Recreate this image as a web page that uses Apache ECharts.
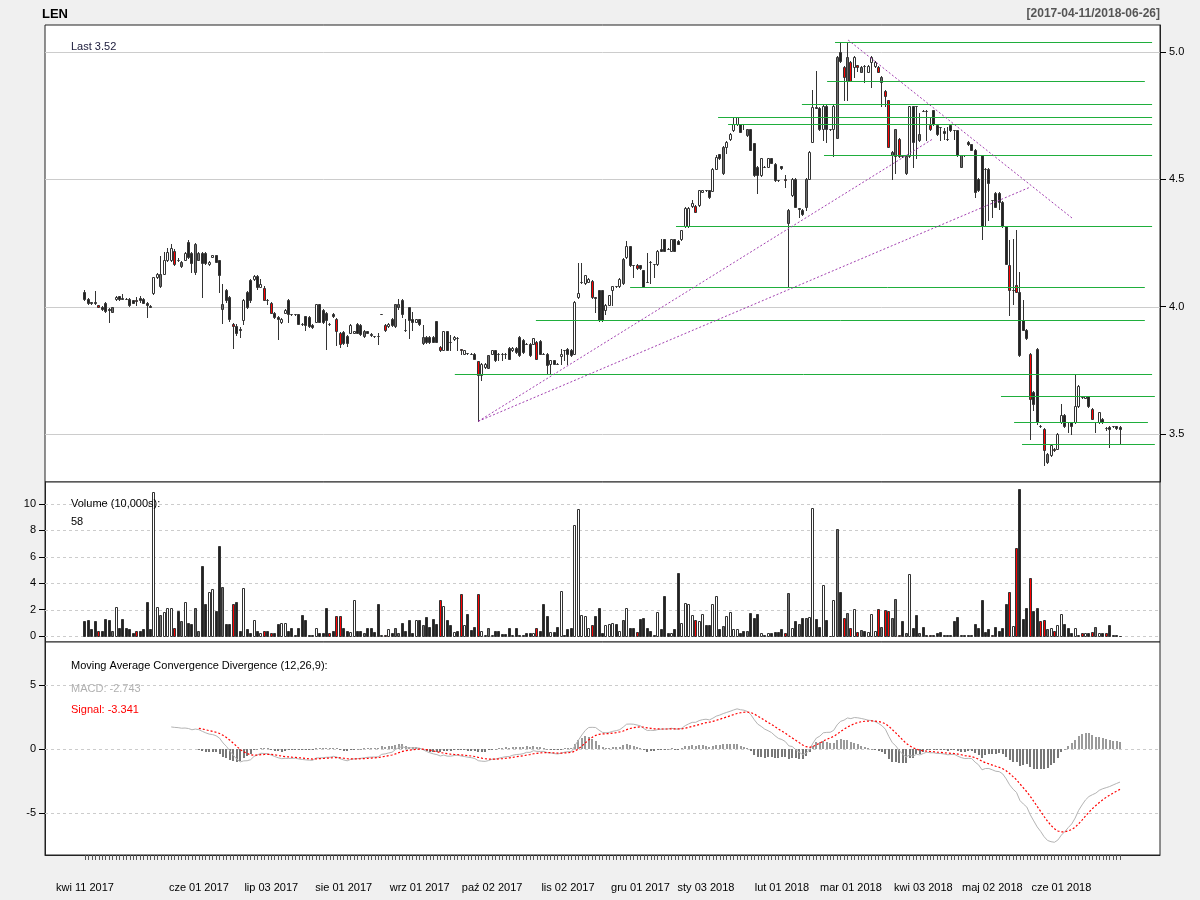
<!DOCTYPE html>
<html><head><meta charset="utf-8">
<script src="https://cdn.jsdelivr.net/npm/echarts@6/dist/echarts.min.js"></script>
<style>html,body{margin:0;padding:0;background:#F0F0F0}#c{width:1200px;height:900px}</style>
</head><body><div id="c"></div>
<script>
// ---- DATA (LEN, daily, 2017-04-11 .. 2018-06-26), one entry per session ----
const open=[4.058,4.032,4.018,4.018,4.005,4.000,4.016,3.990,3.981,4.030,
4.040,4.033,4.032,4.032,4.025,4.025,4.034,4.032,4.016,4.003,
4.052,4.115,4.080,4.130,4.185,4.185,4.220,4.184,4.159,4.185,
4.255,4.211,4.137,4.185,4.211,4.211,4.166,4.196,4.202,4.182,
3.990,4.065,4.039,3.930,3.923,3.912,3.947,4.058,4.104,4.108,
4.121,4.078,4.075,4.028,4.016,3.977,3.960,3.940,3.977,4.028,
3.970,3.970,3.970,3.931,3.962,3.960,3.927,3.940,4.010,3.987,
3.977,3.931,3.970,3.950,3.897,3.900,3.884,3.897,3.897,3.931,
3.927,3.884,3.903,3.894,3.884,3.884,3.970,3.927,3.923,3.950,
3.923,4.000,4.028,3.910,3.997,3.950,3.940,3.950,3.858,3.881,
3.881,3.881,3.943,3.842,3.831,3.904,3.860,3.873,3.878,3.833,
3.816,3.818,3.816,3.816,3.786,3.733,3.763,3.761,3.816,3.829,
3.816,3.816,3.816,3.838,3.829,3.838,3.881,3.871,3.855,3.855,
3.855,3.862,3.866,3.816,3.816,3.776,3.790,3.776,3.805,3.829,
3.835,3.831,3.816,4.036,4.097,4.091,4.097,4.101,4.036,4.064,
4.065,3.988,4.008,4.064,4.081,4.081,4.093,4.195,4.237,4.163,
4.163,4.163,4.143,4.097,4.176,4.167,4.167,4.228,4.264,4.228,
4.219,4.264,4.257,4.264,4.316,4.316,4.395,4.397,4.398,4.451,
4.457,4.457,4.455,4.542,4.599,4.523,4.628,4.657,4.693,4.716,
4.716,4.716,4.674,4.696,4.641,4.549,4.516,4.549,4.549,4.582,
4.562,4.497,4.552,4.503,4.329,4.438,4.503,4.383,4.381,4.390,
4.503,4.647,4.785,4.782,4.696,4.787,4.696,4.696,4.664,5.001,
4.942,4.887,4.962,4.942,4.947,4.922,4.945,4.922,4.962,4.945,
4.942,4.883,4.848,4.811,4.595,4.591,4.660,4.591,4.523,4.591,
4.787,4.787,4.654,4.769,4.769,4.713,4.772,4.713,4.704,4.690,
4.660,4.713,4.693,4.693,4.549,4.595,4.647,4.638,4.617,4.503,
4.595,4.542,4.542,4.418,4.447,4.447,4.412,4.316,4.163,4.064,
4.084,4.058,3.947,3.910,3.816,3.665,3.835,3.532,3.521,3.390,
3.416,3.442,3.442,3.547,3.576,3.547,3.547,3.547,3.609,3.646,
3.643,3.648,3.600,3.547,3.547,3.560,3.525,3.528,3.530,3.530,
3.528];
const high=[4.067,4.035,4.020,4.060,4.008,4.003,4.020,3.995,4.000,4.040,
4.042,4.050,4.034,4.034,4.027,4.039,4.040,4.034,4.020,4.006,
4.117,4.133,4.200,4.215,4.229,4.248,4.225,4.190,4.180,4.215,
4.261,4.215,4.250,4.213,4.215,4.215,4.178,4.204,4.204,4.185,
4.090,4.070,4.040,3.935,3.930,3.920,4.030,4.060,4.110,4.125,
4.125,4.108,4.080,4.030,4.020,3.980,3.963,3.955,3.990,4.030,
3.972,3.972,3.972,3.935,3.965,3.965,3.930,4.012,4.012,3.990,
3.980,3.935,3.975,3.955,3.900,3.905,3.890,3.930,3.905,3.935,
3.930,3.910,3.905,3.897,3.886,3.897,3.970,3.930,3.935,3.955,
4.012,4.030,4.030,3.950,4.000,3.980,3.952,3.952,3.927,3.885,
3.885,3.885,3.945,3.845,3.906,3.906,3.887,3.883,3.880,3.835,
3.830,3.820,3.818,3.818,3.788,3.778,3.778,3.810,3.830,3.830,
3.818,3.818,3.818,3.840,3.840,3.840,3.883,3.873,3.857,3.857,
3.877,3.866,3.868,3.818,3.818,3.792,3.792,3.778,3.835,3.831,
3.837,3.833,4.021,4.170,4.170,4.126,4.112,4.103,4.038,4.066,
4.067,4.010,4.047,4.083,4.083,4.112,4.190,4.257,4.240,4.165,
4.167,4.165,4.145,4.209,4.178,4.169,4.221,4.264,4.266,4.230,
4.266,4.266,4.260,4.302,4.391,4.391,4.418,4.399,4.459,4.459,
4.459,4.459,4.544,4.595,4.601,4.630,4.650,4.680,4.743,4.745,
4.718,4.718,4.698,4.698,4.643,4.551,4.584,4.551,4.584,4.584,
4.564,4.499,4.554,4.516,4.383,4.505,4.505,4.387,4.383,4.505,
4.610,4.850,4.926,4.785,4.790,4.790,4.698,4.790,4.983,5.034,
4.944,5.034,4.964,4.983,4.947,4.944,4.947,4.947,4.983,4.964,
4.944,4.905,4.850,4.813,4.610,4.698,4.662,4.593,4.593,4.789,
4.789,4.789,4.761,4.771,4.771,4.743,4.774,4.715,4.706,4.700,
4.706,4.715,4.695,4.695,4.597,4.597,4.650,4.640,4.620,4.505,
4.597,4.544,4.544,4.420,4.450,4.450,4.415,4.318,4.261,4.267,
4.300,4.136,4.028,3.912,3.818,3.667,3.837,3.534,3.523,3.425,
3.457,3.444,3.503,3.617,3.578,3.549,3.549,3.733,3.691,3.648,
3.650,3.650,3.602,3.549,3.588,3.562,3.527,3.530,3.532,3.532,
3.532];
const low=[4.025,4.010,4.010,4.012,3.998,3.985,3.980,3.940,3.980,4.028,
4.028,4.030,4.029,4.004,4.014,4.006,4.020,4.014,3.960,3.998,
4.050,4.112,4.078,4.128,4.180,4.180,4.165,4.178,4.157,4.183,
4.190,4.137,4.130,4.183,4.039,4.168,4.164,4.194,4.174,4.058,
3.934,4.020,3.945,3.836,3.890,3.880,3.930,3.995,4.020,4.105,
4.070,4.076,4.025,4.010,3.975,3.957,3.873,3.937,3.975,3.940,
3.968,3.968,3.930,3.928,3.910,3.920,3.918,3.938,3.938,3.935,
3.835,3.928,3.960,3.849,3.842,3.855,3.845,3.895,3.895,3.895,
3.890,3.880,3.895,3.884,3.882,3.855,3.970,3.905,3.920,3.925,
3.920,3.990,3.960,3.905,3.875,3.907,3.938,3.929,3.855,3.858,
3.858,3.860,3.860,3.827,3.829,3.829,3.829,3.870,3.829,3.816,
3.815,3.816,3.814,3.793,3.550,3.711,3.760,3.760,3.814,3.788,
3.790,3.790,3.800,3.794,3.827,3.820,3.807,3.820,3.853,3.807,
3.853,3.794,3.814,3.814,3.737,3.737,3.774,3.774,3.776,3.790,
3.776,3.807,3.814,4.034,4.091,4.089,4.095,4.034,3.980,3.945,
3.945,3.973,4.006,4.008,4.079,4.079,4.090,4.190,4.160,4.117,
4.148,4.148,4.076,4.095,4.093,4.117,4.165,4.217,4.217,4.226,
4.217,4.217,4.246,4.262,4.314,4.314,4.393,4.370,4.396,4.449,
4.455,4.427,4.453,4.540,4.580,4.520,4.602,4.655,4.690,4.714,
4.685,4.696,4.672,4.615,4.514,4.447,4.514,4.547,4.547,4.563,
4.495,4.495,4.541,4.471,4.078,4.436,4.390,4.353,4.361,4.380,
4.500,4.645,4.780,4.694,4.654,4.647,4.694,4.591,4.662,4.962,
4.811,4.811,4.885,4.903,4.926,4.920,4.883,4.920,4.863,4.943,
4.920,4.787,4.787,4.626,4.503,4.523,4.589,4.589,4.520,4.589,
4.549,4.582,4.652,4.767,4.654,4.694,4.715,4.675,4.654,4.660,
4.656,4.690,4.658,4.593,4.547,4.593,4.636,4.615,4.429,4.455,
4.264,4.320,4.340,4.353,4.390,4.385,4.314,4.167,3.966,4.012,
4.056,3.807,3.908,3.873,3.482,3.593,3.541,3.528,3.377,3.388,
3.414,3.434,3.440,3.545,3.528,3.508,3.501,3.545,3.607,3.640,
3.640,3.607,3.558,3.508,3.545,3.545,3.514,3.449,3.528,3.520,
3.462];
const close=[4.032,4.016,4.016,4.016,4.000,3.990,3.983,3.985,3.997,4.039,
4.030,4.031,4.030,4.006,4.016,4.022,4.025,4.016,4.006,4.000,
4.115,4.130,4.130,4.185,4.215,4.229,4.167,4.182,4.176,4.211,
4.196,4.170,4.248,4.211,4.170,4.170,4.176,4.202,4.176,4.124,
4.010,4.026,3.950,3.925,3.895,3.910,4.028,3.997,4.028,4.121,
4.078,4.090,4.028,4.025,3.977,3.960,3.950,3.950,3.988,3.970,
3.970,3.970,3.931,3.931,3.927,3.923,3.920,4.010,3.940,3.940,
3.947,3.931,3.962,3.904,3.855,3.858,3.858,3.927,3.903,3.897,
3.894,3.903,3.897,3.890,3.884,3.884,3.970,3.910,3.931,3.927,
4.010,4.010,3.970,3.910,3.947,3.940,3.950,3.931,3.882,3.862,
3.862,3.862,3.862,3.829,3.904,3.831,3.860,3.881,3.875,3.829,
3.829,3.818,3.816,3.795,3.733,3.776,3.776,3.809,3.829,3.790,
3.816,3.816,3.816,3.796,3.838,3.822,3.809,3.822,3.855,3.809,
3.875,3.796,3.816,3.816,3.770,3.790,3.776,3.776,3.816,3.829,
3.816,3.809,4.019,4.054,4.097,4.124,4.110,4.036,4.034,3.947,
3.947,4.008,4.045,4.081,4.081,4.110,4.189,4.237,4.163,4.163,
4.150,4.150,4.078,4.097,4.176,4.167,4.219,4.219,4.219,4.228,
4.264,4.219,4.248,4.300,4.389,4.389,4.408,4.372,4.457,4.457,
4.457,4.429,4.542,4.588,4.582,4.628,4.648,4.678,4.716,4.743,
4.687,4.716,4.696,4.617,4.516,4.516,4.582,4.549,4.582,4.565,
4.497,4.497,4.543,4.497,4.381,4.503,4.392,4.386,4.363,4.503,
4.608,4.785,4.782,4.696,4.787,4.696,4.696,4.787,4.981,4.964,
4.903,4.981,4.887,4.981,4.943,4.942,4.945,4.945,4.981,4.962,
4.922,4.903,4.827,4.628,4.608,4.696,4.591,4.591,4.591,4.787,
4.647,4.787,4.677,4.769,4.769,4.696,4.717,4.677,4.704,4.680,
4.658,4.693,4.693,4.595,4.595,4.595,4.638,4.617,4.451,4.457,
4.316,4.542,4.486,4.418,4.392,4.412,4.316,4.169,4.064,4.066,
4.058,3.809,3.910,3.875,3.639,3.619,3.547,3.530,3.436,3.423,
3.455,3.436,3.501,3.576,3.530,3.547,3.530,3.609,3.689,3.646,
3.648,3.609,3.560,3.547,3.586,3.547,3.525,3.521,3.530,3.525,
3.520];
// bar colour class per session: w=up/up, g=up/down, r=down/up, k=down/down
const barClass=("kkkkrkkkgw"+"kkkkkrkkkk"+"wwgwwwrkgw"+"kkggkkwwkk"+"gkkrkkwkkw"+
"kwrkrkkwwk"+"kkkkkkkwkk"+"krkrrkkwwk"+"kgkkkkwrwk"+"ggkkkkwkgk"+
"kkkrwkkwkr"+"wkkkrwwgwk"+"kkkkwkkkkk"+"wrkkkwkkwk"+"kkwwwwwrkk"+
"kwwwkwgwkk"+"rkkkkkwkkk"+"wkkwwwwrww"+"kkwwkgwwww"+"kkgkkkwkwk"+
"kkkrgwkgkg"+"wwkkwkwwgk"+"rgrwrgkwww"+"rgrrggrkgw"+"kkgkkrkkkk"+
"kkkkgkkkkk"+"kkkrkkkkrw"+"rkkkrkkrrg"+"wrwwkkkwwr"+"wkrgwkrkkk"+"k").split('');
// volume in 10,000s
const volume=[1.1,1.2,0.5,1.1,0.4,0.4,1.3,1.25,0.4,2.2,
0.6,1.3,0.6,0.5,0.2,0.4,0.4,0.5,2.6,0.5,
10.9,2.2,1.6,1.8,2.1,2.1,0.6,1.9,1.1,2.6,
1.0,0.9,2.1,0.4,5.3,2.4,3.3,3.55,1.9,6.8,
3.7,0.9,0.9,2.4,2.6,0.4,3.6,0.5,0.2,1.25,
0.4,0.2,0.4,0.4,0.2,0.2,0.9,1.0,1.0,0.4,
0.6,0.1,0.6,1.6,1.25,0.1,0.1,0.6,0.25,0.2,
2.1,0.2,0.4,1.5,1.55,0.6,0.4,0.3,2.7,0.4,
0.4,0.2,0.6,0.6,0.3,2.4,0.1,0.1,0.5,0.2,
0.6,0.2,1.0,0.4,1.2,0.2,1.25,1.25,0.8,1.45,
0.7,1.3,0.9,2.75,2.3,1.25,0.8,0.3,0.35,3.2,
0.8,1.7,0.45,0.7,3.2,0.4,0.1,0.6,0.1,0.35,
0.35,0.15,0.15,0.6,0.1,0.6,0.05,0.05,0.2,0.25,
0.2,0.6,0.35,2.4,1.5,0.3,0.3,0.7,3.4,0.1,
0.5,0.6,8.4,9.6,1.6,1.5,0.6,0.8,1.55,2.1,
0.2,0.8,0.9,1.0,0.9,0.4,1.2,2.1,0.6,0.6,
0.3,1.3,1.4,0.6,0.4,0.1,1.8,0.5,3.05,0.2,
0.25,0.5,4.75,1.0,2.5,2.4,1.6,1.2,1.1,1.7,
0.8,0.8,2.4,3.05,0.5,0.75,1.5,1.8,0.55,0.55,
0.2,0.4,0.4,1.75,1.4,1.7,0.25,0.1,0.25,0.25,
0.3,0.3,0.55,0.2,3.25,0.6,1.1,0.9,1.4,1.4,
1.45,9.7,1.3,0.7,3.9,1.2,0.02,2.7,8.1,3.3,
1.4,1.75,0.6,2.05,0.3,0.45,0.4,0.3,1.7,0.4,
2.05,0.7,2.0,1.9,1.4,2.8,0.1,1.1,0.25,4.7,
0.6,1.6,0.2,0.7,0.1,0.1,0.1,0.2,0.3,0.05,
0.05,0.1,1.1,1.45,0.05,0.1,0.05,0.1,0.9,0.6,
2.75,0.3,0.5,0.1,0.7,0.4,0.6,2.4,3.3,0.75,
6.7,11.1,1.3,2.1,4.4,1.9,2.1,1.1,1.2,0.5,
0.6,0.4,0.8,1.7,0.9,0.6,0.25,0.6,0.1,0.25,
0.2,0.2,0.3,0.7,0.2,0.25,0.2,0.8,0.05,0.05,
0.0058];
// date-axis labels (session index -> label)
const dateTickIndex=[0,33,54,75,97,118,140,161,180,202,222,243,263,283];
const dateTickLabel=['kwi 11 2017','cze 01 2017','lip 03 2017','sie 01 2017','wrz 01 2017','paź 02 2017','lis 02 2017','gru 01 2017','sty 03 2018','lut 01 2018','mar 01 2018','kwi 03 2018','maj 02 2018','cze 01 2018'];
const priceTicks=[3.5,4.0,4.5,5.0];
const volumeTicks=[0,2,4,6,8,10];
const macdTicks=[-5,0,5];
// support / resistance levels: [price, from session, to session]
const levelLines=[[5.038,217.4,309.3],[4.885,215.1,307.2],[4.796,207.8,309.3],[4.744,183.5,309.3],
[4.716,186.4,309.3],[4.594,214.2,309.3],[4.316,171.3,309.3],[4.076,158.0,307.2],[3.946,130.7,307.2],
[3.734,107.2,309.3],[3.649,265.5,310.1],[3.546,269.3,308.1],[3.461,271.6,310.1]];
// trend lines: [from session, price, to session, price]
const trendLines=[[114,3.55,245.8,4.659],[114,3.55,273.9,4.469],[221.2,5.047,286.1,4.348]];
const macdParams=[12,26,9];

// ---- indicator (quantmod/TTR MACD, percent=TRUE) ----
function ema(x,n){
  const out=new Array(x.length).fill(null);
  const s0=x.findIndex(v=>v!=null);
  if(s0<0||s0+n>x.length) return out;
  let s=0; for(let k=s0;k<s0+n;k++) s+=x[k];
  let prev=s/n; out[s0+n-1]=prev; const a=2/(n+1);
  for(let k=s0+n;k<x.length;k++){prev=a*x[k]+(1-a)*prev; out[k]=prev;}
  return out;
}
const emaFast=ema(close,macdParams[0]), emaSlow=ema(close,macdParams[1]);
const macd=close.map((c,i)=>(emaFast[i]!=null&&emaSlow[i]!=null)?100*(emaFast[i]/emaSlow[i]-1):null);
const signal=ema(macd,macdParams[2]);
const hist=macd.map((m,i)=>(m!=null&&signal[i]!=null)?m-signal[i]:null);

// ---- chart ----
const FONT='"Liberation Sans", Arial, sans-serif';
const fill={w:'#ffffff',k:'#222222',g:'#6e6e6e',r:'#ff0000'};
const XMIN=-11.594, XMAX=311.594;
const chart=echarts.init(document.getElementById('c'),null,{renderer:'canvas'});

function candleItem(params,api){
  const i=api.value(0);
  const pO=api.coord([i,api.value(1)]), pH=api.coord([i,api.value(2)]);
  const pL=api.coord([i,api.value(3)]), pC=api.coord([i,api.value(4)]);
  const X0=Math.round(pO[0]-1.5);
  const top=Math.round(Math.min(pO[1],pC[1]))+0.5, bot=Math.round(Math.max(pO[1],pC[1]))+0.5;
  return {type:'group',children:[
    {type:'line',shape:{x1:X0+1.5,y1:Math.round(pH[1]),x2:X0+1.5,y2:Math.round(pL[1])+1},style:{stroke:'#333',lineWidth:1}},
    {type:'rect',shape:{x:X0+0.5,y:top,width:2,height:Math.max(bot-top,0)},style:{fill:fill[barClass[params.dataIndex]],stroke:'#333',lineWidth:1}}
  ]};
}
function volItem(params,api){
  const i=api.value(0);
  const p=api.coord([i,api.value(1)]), p0=api.coord([i,0]);
  const X0=Math.round(p[0]-1.5);
  const yt=Math.round(p[1])+0.5, yb=Math.round(p0[1])+0.5;
  return {type:'rect',shape:{x:X0+0.5,y:yt,width:2,height:Math.max(yb-yt,0)},style:{fill:fill[barClass[params.dataIndex]],stroke:'#333',lineWidth:1}};
}
function histItem(params,api){
  const i=api.value(0), h=api.value(1);
  const p=api.coord([i,h]), p0=api.coord([i,0]);
  const X0=Math.round(p[0]-1);
  const y1=Math.round(Math.min(p[1],p0[1])), y2=Math.round(Math.max(p[1],p0[1]));
  return {type:'rect',shape:{x:X0,y:y1,width:2,height:Math.max(y2-y1,1)},style:{fill:h>=0?'#9a9a9a':'#777777'}};
}
function segItem(style,snap){
  return function(params,api){
    const a=api.coord([api.value(0),api.value(1)]), b=api.coord([api.value(2),api.value(3)]);
    let y1=a[1], y2=b[1];
    if(snap){y1=Math.round(y1)+0.5; y2=Math.round(y2)+0.5;}
    return {type:'line',shape:{x1:a[0],y1:y1,x2:b[0],y2:y2},style:style};
  };
}
const hGrid=(vals,xi,yi,dash)=>({type:'custom',xAxisIndex:xi,yAxisIndex:yi,silent:true,clip:true,z:1,
  renderItem:segItem({stroke:'#cccccc',lineWidth:1,lineDash:dash||null},true),
  encode:{x:[0,2],y:[1,3]},data:vals.map(v=>[XMIN,v,XMAX,v])});

const idx=close.map((_,i)=>i);
const baseX=(g)=>({type:'value',gridIndex:g,min:XMIN,max:XMAX,show:false,axisLine:{onZero:false}});
const yAx=(g,pos,mn,mx,ticks,fmt)=>({type:'value',gridIndex:g,position:pos,min:mn,max:mx,
  axisLine:{show:true,onZero:false,lineStyle:{color:'#222'}},splitLine:{show:false},
  axisTick:{show:true,customValues:ticks,length:6,lineStyle:{color:'#000'}},
  axisLabel:{customValues:ticks,formatter:fmt,fontSize:11,color:'#000',margin:9,fontFamily:FONT}});
const option={
  backgroundColor:'#F0F0F0',animation:false,
  textStyle:{fontFamily:FONT},
  grid:[
    {left:45,right:40,top:25,height:457,show:true,backgroundColor:'#ffffff',borderColor:'#222',borderWidth:1},
    {left:45,right:40,top:482,height:160,show:true,backgroundColor:'#ffffff',borderColor:'#222',borderWidth:1},
    {left:45,right:40,top:642,height:213,show:true,backgroundColor:'#ffffff',borderColor:'#222',borderWidth:1}
  ],
  xAxis:[baseX(0),baseX(1),
    {type:'value',gridIndex:2,min:XMIN,max:XMAX,position:'bottom',
     axisLine:{show:true,onZero:false,lineStyle:{color:'#222'}},splitLine:{show:false},
     axisTick:{show:true,customValues:idx,length:5,lineStyle:{color:'#555',width:1}},
     axisLabel:{show:true,customValues:dateTickIndex,margin:27,fontSize:11,color:'#000',fontFamily:FONT,
       formatter:(v)=>{const k=dateTickIndex.indexOf(Math.round(v));return k>=0?dateTickLabel[k]:'';}}}
  ],
  yAxis:[
    yAx(0,'right',3.3115,5.106,priceTicks,v=>v.toFixed(1)),
    yAx(1,'left',-0.4545,11.667,volumeTicks,v=>String(v)),
    yAx(2,'left',-8.281,8.359,macdTicks,v=>String(v))
  ],
  series:[
    hGrid(priceTicks,0,0,null),
    hGrid(volumeTicks,1,1,[3,3]),
    hGrid(macdTicks,2,2,[3,3]),
    {type:'custom',name:'LEN',xAxisIndex:0,yAxisIndex:0,clip:true,silent:true,z:3,renderItem:candleItem,
     encode:{x:0,y:[1,2,3,4]},data:close.map((c,i)=>[i,open[i],high[i],low[i],c])},
    {type:'custom',name:'levels',xAxisIndex:0,yAxisIndex:0,clip:true,silent:true,z:4,
     renderItem:segItem({stroke:'#1fae3c',lineWidth:1},true),encode:{x:[0,2],y:[1,3]},
     data:levelLines.map(l=>[l[1],l[0],l[2],l[0]])},
    {type:'custom',name:'trend',xAxisIndex:0,yAxisIndex:0,clip:true,silent:true,z:5,
     renderItem:segItem({stroke:'#a23fb0',lineWidth:1,lineDash:[2,2]},false),encode:{x:[0,2],y:[1,3]},
     data:trendLines.map(t=>[t[0],t[1],t[2],t[3]])},
    {type:'custom',name:'Volume',xAxisIndex:1,yAxisIndex:1,clip:true,silent:true,z:3,renderItem:volItem,
     encode:{x:0,y:1},data:volume.map((v,i)=>[i,v])},
    {type:'custom',name:'hist',xAxisIndex:2,yAxisIndex:2,clip:true,silent:true,z:3,renderItem:histItem,
     encode:{x:0,y:1},data:hist.map((h,i)=>h==null?null:[i,h]).filter(d=>d)},
    {type:'line',name:'MACD',xAxisIndex:2,yAxisIndex:2,showSymbol:false,silent:true,z:4,connectNulls:false,
     lineStyle:{color:'#b4b4b4',width:1},data:macd.map((m,i)=>[i,m])},
    {type:'line',name:'Signal',xAxisIndex:2,yAxisIndex:2,showSymbol:false,silent:true,z:5,connectNulls:false,
     lineStyle:{color:'#ff0000',width:1.2,type:[2,2]},data:signal.map((s,i)=>[i,s])}
  ],
  graphic:[
    {type:'text',x:42,y:14,z:100,style:{text:'LEN',font:'bold 13px '+FONT,fill:'#000',verticalAlign:'middle'}},
    {type:'text',x:1160,y:14,z:100,style:{text:'[2017-04-11/2018-06-26]',font:'bold 12px '+FONT,fill:'#555',align:'right',verticalAlign:'middle'}},
    {type:'text',x:71,y:47,z:100,style:{text:'Last 3.52',font:'11px '+FONT,fill:'#1a1a3a',verticalAlign:'middle'}},
    {type:'text',x:71,y:504,z:100,style:{text:'Volume (10,000s):',font:'11px '+FONT,fill:'#000',verticalAlign:'middle'}},
    {type:'text',x:71,y:522,z:100,style:{text:'58',font:'11px '+FONT,fill:'#000',verticalAlign:'middle'}},
    {type:'text',x:71,y:666,z:100,style:{text:'Moving Average Convergence Divergence (12,26,9):',font:'11px '+FONT,fill:'#000',verticalAlign:'middle'}},
    {type:'text',x:71,y:689,z:100,style:{text:'MACD: -2.743',font:'11px '+FONT,fill:'#b0b0b0',verticalAlign:'middle'}},
    {type:'text',x:71,y:710,z:100,style:{text:'Signal: -3.341',font:'11px '+FONT,fill:'#ff0000',verticalAlign:'middle'}}
  ]
};
chart.setOption(option);
</script></body></html>
